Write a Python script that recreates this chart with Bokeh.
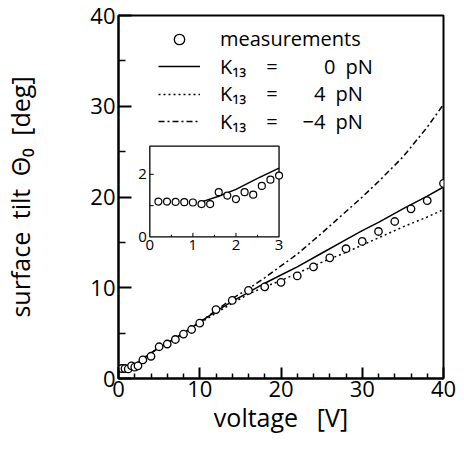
from bokeh.plotting import figure
from bokeh.models import Range1d, FixedTicker, Legend, LegendItem
from bokeh.embed import file_html
from bokeh.resources import INLINE
from bokeh.core.properties import value

# ---------------- data ----------------
# main panel: measurements
voltage = [0.4, 0.8, 1.2, 1.6, 2.0, 2.4, 3, 4, 5, 6, 7, 8, 9, 10, 12, 14, 16, 18,
           20, 22, 24, 26, 28, 30, 32, 34, 36, 38, 40]
tilt = [1.1, 1.1, 1.05, 1.4, 1.25, 1.4, 2.05, 2.45, 3.5, 3.8, 4.3, 4.9, 5.4, 6.1, 7.6,
        8.6, 9.7, 10.1, 10.6, 11.3, 12.3, 13.3, 14.3, 15.1, 16.2, 17.3, 18.7, 19.6, 21.5]

# main panel: theory curves
v_theory = [1.2, 2, 3, 4, 5, 6, 8, 10, 12, 14, 16, 18, 20, 22, 25, 28, 30, 32, 35, 38, 40]
tilt_k0 = [1.1, 1.5, 2.2, 2.8, 3.4, 3.9, 5.0, 6.2, 7.4, 8.5, 9.5, 10.5, 11.4, 12.3,
           13.8, 15.3, 16.3, 17.2, 18.7, 20.1, 21.1]
tilt_k4 = [1.1, 1.5, 2.2, 2.8, 3.4, 3.9, 5.0, 6.1, 7.2, 8.3, 9.3, 10.1, 10.8, 11.6,
           12.8, 13.9, 14.7, 15.5, 16.7, 17.8, 18.6]
tilt_km4 = [1.1, 1.5, 2.2, 2.8, 3.4, 3.9, 5.0, 6.2, 7.5, 8.8, 9.9, 11.1, 12.4, 13.7,
            16.0, 18.4, 20.0, 21.7, 24.4, 27.7, 30.2]

# inset: low-voltage detail
inset_v = [0.2, 0.4, 0.6, 0.8, 1.0, 1.2, 1.4, 1.6, 1.8, 2.0, 2.2, 2.4, 2.6, 2.8, 3.0]
inset_tilt = [1.13, 1.13, 1.12, 1.11, 1.10, 1.05, 1.05, 1.43, 1.32, 1.21, 1.43, 1.35,
              1.63, 1.83, 1.96]
inset_v_theory = [1.2, 1.6, 2.0, 2.5, 3.0]
inset_tilt_k0 = [1.12, 1.30, 1.52, 1.87, 2.2]

# ticks
x_major = [0, 10, 20, 30, 40]
x_minor = [2, 4, 6, 8, 12, 14, 16, 18, 22, 24, 26, 28, 32, 34, 36, 38]
y_major = [0, 10, 20, 30, 40]
y_minor = [5, 15, 25, 35]
inset_x_major = [1, 2]
inset_x_minor = [0.5, 1.5, 2.5]
inset_x_labels = [0, 1, 2, 3]
inset_y_major = [1, 2]
inset_y_labels = [0, 2]

EN, FIG, QS = "\u2002", "\u2007", "\u2005"
legend_labels = [
    "measurements",
    "K\u2081\u2083" + EN + EN + "=" + EN + EN + EN + FIG + QS + "0" + EN + "pN",
    "K\u2081\u2083" + EN + EN + "=" + EN + EN + FIG + QS + "4" + EN + "pN",
    "K\u2081\u2083" + EN + EN + "=" + EN + EN + QS + "\u22124" + EN + "pN",
]

FONT = "Open Sans"

# ---------------- main figure ----------------
p = figure(width=456, height=444, output_backend="svg", toolbar_location=None,
           x_range=Range1d(0, 40), y_range=Range1d(0, 40),
           min_border_left=118, min_border_right=13, min_border_top=15,
           min_border_bottom=66)
p.background_fill_color = "white"
p.border_fill_color = "white"
p.outline_line_color = "black"
p.outline_line_width = 2
p.xgrid.visible = False
p.ygrid.visible = False

p.xaxis.ticker = FixedTicker(ticks=x_major, minor_ticks=x_minor)
p.yaxis.ticker = FixedTicker(ticks=y_major, minor_ticks=y_minor)

for ax in (p.xaxis, p.yaxis):
    ax.axis_line_width = 2
    ax.major_tick_line_width = 2
    ax.minor_tick_line_width = 1.5
    ax.major_tick_out = 0
    ax.minor_tick_out = 0
    ax.major_label_text_font = FONT
    ax.major_label_text_font_size = "22px"
    ax.major_label_text_color = "black"
    ax.axis_label_text_font = FONT
    ax.axis_label_text_font_size = "25px"
    ax.axis_label_text_font_style = "normal"
    ax.axis_label_text_color = "black"

p.xaxis.major_tick_in = 11
p.xaxis.minor_tick_in = 5
p.yaxis.major_tick_in = 13
p.yaxis.minor_tick_in = 7
p.xaxis.major_label_standoff = 2
p.yaxis.major_label_standoff = 3
p.xaxis.axis_label = "voltage" + EN + QS + "[V]"
p.yaxis.axis_label = "surface" + EN + "tilt" + EN + "\u0398\u2080" + EN + "[deg]"
p.xaxis.axis_label_standoff = 0
p.yaxis.axis_label_standoff = 50

r_k0 = p.line(v_theory, tilt_k0, line_color="black", line_width=1.5)
r_k4 = p.line(v_theory, tilt_k4, line_color="black", line_width=1.5, line_dash="2 3")
r_km4 = p.line(v_theory, tilt_km4, line_color="black", line_width=1.5, line_dash="6 3 2 3")
r_meas = p.scatter(voltage, tilt, marker="circle", size=7.5, fill_color="white",
                   line_color="black", line_width=1.3)

# one legend per row so the rows keep the original's tight spacing
legend_rows = [(r_meas, 326), (r_k0, 298.5), (r_k4, 271), (r_km4, 243.5)]
for lbl, (rend, ybot) in zip(legend_labels, legend_rows):
    p.add_layout(Legend(
        items=[LegendItem(label=lbl, renderers=[rend])],
        location=(40, ybot), glyph_width=42, glyph_height=26, label_height=26,
        label_standoff=20, spacing=0, padding=0, margin=0,
        border_line_alpha=0, background_fill_alpha=0,
        label_text_font=FONT, label_text_font_size="20px", label_text_color="black",
        label_text_baseline="middle",
    ))

# ---------------- inset ----------------
INSET_X = Range1d(0, 3)
INSET_Y = Range1d(0, 2.9)
ins = p.subplot(x_source=INSET_X, y_source=INSET_Y,
                x_target=Range1d(3.855, 19.76), y_target=Range1d(15.6, 25.6))

ins.quad(left=INSET_X.start, right=INSET_X.end, bottom=INSET_Y.start, top=INSET_Y.end,
         fill_color="white", line_color="black", line_width=1.3)
ins.segment(x0=inset_x_major, y0=[0] * len(inset_x_major), x1=inset_x_major,
            y1=[0.13] * len(inset_x_major), line_color="black", line_width=1)
ins.segment(x0=inset_x_minor, y0=[0] * len(inset_x_minor), x1=inset_x_minor,
            y1=[0.07] * len(inset_x_minor), line_color="black", line_width=1)
ins.segment(x0=[0] * len(inset_y_major), y0=inset_y_major,
            x1=[0.09] * len(inset_y_major), y1=inset_y_major,
            line_color="black", line_width=1)
ins.text(x=inset_x_labels, y=[0] * len(inset_x_labels),
         text=[str(v) for v in inset_x_labels], y_offset=3,
         text_align="center", text_baseline="top", text_font=value(FONT),
         text_font_size="15px", text_color="black")
ins.text(x=[0] * len(inset_y_labels), y=inset_y_labels,
         text=[str(v) for v in inset_y_labels], x_offset=-3,
         text_align="right", text_baseline="middle", text_font=value(FONT),
         text_font_size="15px", text_color="black")
ins.line(inset_v_theory, inset_tilt_k0, line_color="black", line_width=1.5)
ins.scatter(inset_v, inset_tilt, marker="circle", size=7, fill_color="white",
            line_color="black", line_width=1.2)

open("out.html", "w").write(file_html(p, INLINE))
